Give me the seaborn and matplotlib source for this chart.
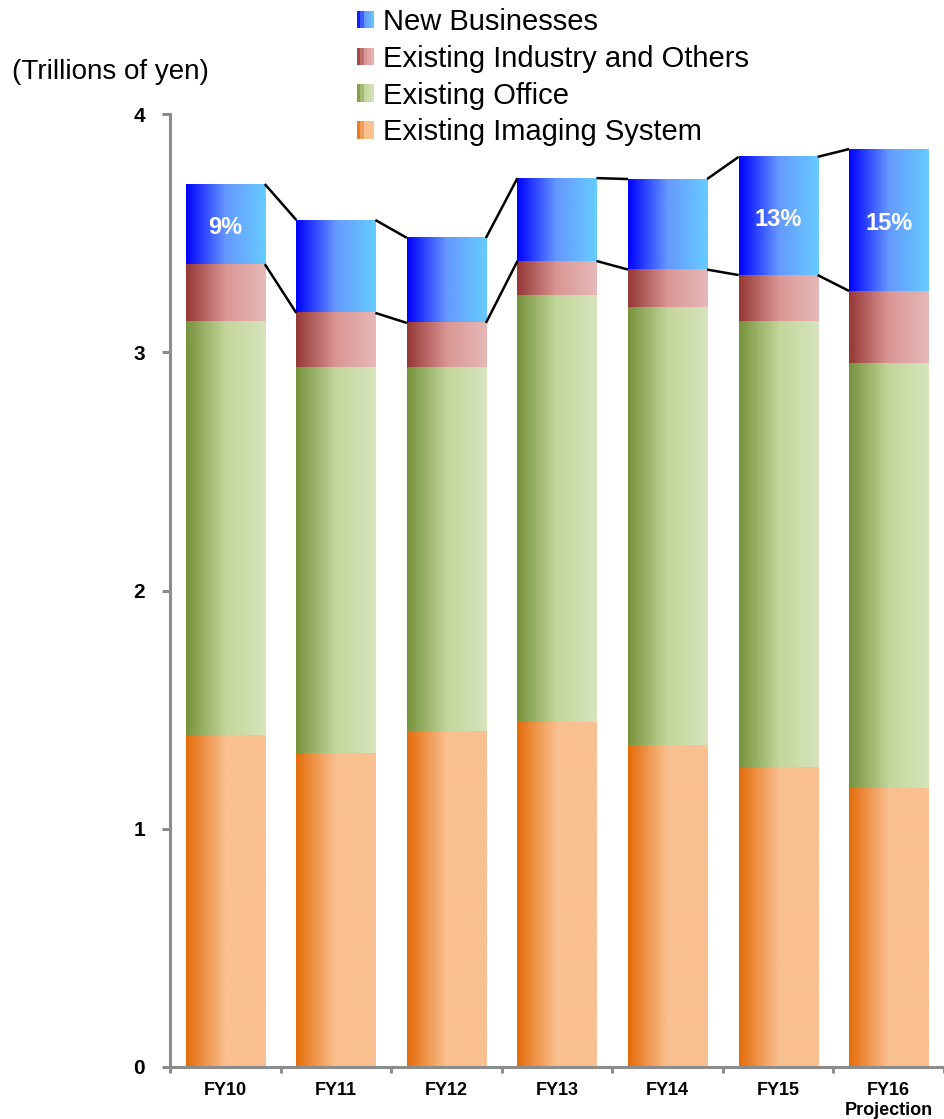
import numpy as np
import pandas as pd
import matplotlib
matplotlib.use("Agg")
import matplotlib.pyplot as plt
from matplotlib.patches import Patch, Rectangle
from matplotlib.legend_handler import HandlerBase
from matplotlib.colors import to_rgb
import seaborn as sns

# ---------------- data ----------------
categories = ["FY10", "FY11", "FY12", "FY13", "FY14", "FY15", "FY16\nProjection"]
imaging = [1.391, 1.315, 1.410, 1.448, 1.349, 1.259, 1.171]
office = [1.737, 1.623, 1.528, 1.789, 1.838, 1.869, 1.781]
industry = [0.242, 0.227, 0.185, 0.146, 0.160, 0.196, 0.305]
new_biz = [0.336, 0.390, 0.357, 0.348, 0.380, 0.496, 0.596]
pct_labels = ["9%", "", "", "", "", "13%", "15%"]
series_names = ["New Businesses", "Existing Industry and Others",
                "Existing Office", "Existing Imaging System"]
yticks = [0, 1, 2, 3, 4]

# gradient stops (left -> right) per series
grad_new = [(0.0, "#0000FF"), (0.5, "#6699FF"), (1.0, "#66CCFF")]
grad_ind = [(0.0, "#953735"), (0.5, "#D99694"), (1.0, "#E6B9B8")]
grad_off = [(0.0, "#76923C"), (0.5, "#C3D69B"), (1.0, "#D7E4BD")]
grad_img = [(0.0, "#E46C0A"), (0.5, "#FAC090"), (1.0, "#F9C090")]
gradients = [grad_new, grad_ind, grad_off, grad_img]

# ---------------- helpers ----------------
def grad_color(stops, t):
    pos = [s[0] for s in stops]
    cols = np.array([to_rgb(s[1]) for s in stops])
    return np.array([np.interp(t, pos, cols[:, k]) for k in range(3)])

def grad_image(stops, n=256):
    t = np.linspace(0, 1, n)
    row = np.stack([grad_color(stops, ti) for ti in t])
    return row[np.newaxis, :, :]

class GradHandler(HandlerBase):
    def __init__(self, stops, n=5):
        super().__init__()
        self.stops = stops
        self.n = n

    def create_artists(self, legend, orig_handle, xdescent, ydescent,
                       width, height, fontsize, trans):
        arts = []
        w = width / self.n
        for i in range(self.n):
            c = grad_color(self.stops, (i + 0.5) / self.n)
            r = Rectangle((-xdescent + i * w, -ydescent), w * 1.02, height,
                          facecolor=c, edgecolor="none", transform=trans)
            arts.append(r)
        return arts

# ---------------- frame ----------------
imaging_a = np.array(imaging)
office_top = imaging_a + np.array(office)
industry_top = office_top + np.array(industry)
total = industry_top + np.array(new_biz)

df = pd.DataFrame({
    "fy": categories,
    "total": total,
    "industry_top": industry_top,
    "office_top": office_top,
    "imaging": imaging_a,
})

sns.set_style("white")
plt.rcParams["font.family"] = ["Liberation Sans", "DejaVu Sans"]
plt.rcParams["text.color"] = "black"
plt.rcParams["xtick.labelcolor"] = "black"
plt.rcParams["ytick.labelcolor"] = "black"

fig = plt.figure(figsize=(9.44, 11.19), dpi=100)
ax = fig.add_axes([170 / 944, 1 - 1067 / 1119, 774 / 944, 953 / 1119])

bar_w = 0.715
cols_order = ["total", "industry_top", "office_top", "imaging"]
for col in cols_order:
    sns.barplot(data=df, x="fy", y=col, ax=ax, width=bar_w,
                color="white", errorbar=None, saturation=1)

# replace flat bars with horizontal gradients
for k, cont in enumerate(ax.containers):
    img = grad_image(gradients[k])
    for p in cont.patches:
        x0, w, h = p.get_x(), p.get_width(), p.get_height()
        ax.imshow(img, extent=(x0, x0 + w, 0, h), aspect="auto",
                  interpolation="bilinear", zorder=2 + k * 0.1)
        p.set_visible(False)

# connector lines between bars (total and blue/red boundary)
tot_patches = ax.containers[0].patches
ind_patches = ax.containers[1].patches
for plist in (tot_patches, ind_patches):
    for a, b in zip(plist[:-1], plist[1:]):
        ax.plot([a.get_x() + a.get_width(), b.get_x()],
                [a.get_height(), b.get_height()],
                color="black", lw=1.8, zorder=5, solid_capstyle="butt")

# percentage labels in New Businesses segments
for p_tot, p_ind, lab in zip(tot_patches, ind_patches, pct_labels):
    if lab:
        ax.text(p_tot.get_x() + p_tot.get_width() / 2,
                (p_tot.get_height() + p_ind.get_height()) / 2 - 0.015, lab,
                ha="center", va="center", color="white",
                fontsize=17, fontweight="bold", zorder=6)

# axes styling
ax.set_xlim(-0.5, len(categories) - 0.5)
ax.set_ylim(0, 4)
ax.set_xlabel("")
ax.set_ylabel("")
for s in ["top", "right"]:
    ax.spines[s].set_visible(False)
for s in ["left", "bottom"]:
    ax.spines[s].set_color("#8C8C8C")
    ax.spines[s].set_linewidth(2.2)
    ax.spines[s].set_zorder(7)

ax.set_yticks(yticks)
ax.set_yticklabels([str(v) for v in yticks], fontsize=15, fontweight="bold")
ax.tick_params(axis="y", direction="out", length=6, width=2.2,
               color="#8C8C8C", pad=12, left=True, labelcolor="black")

ax.set_xticks(np.arange(len(categories) + 1) - 0.5)
ax.set_xticklabels([])
ax.set_xticks(np.arange(len(categories)), minor=True)
ax.set_xticklabels(categories, minor=True, fontsize=13, fontweight="bold")
ax.tick_params(axis="x", which="major", direction="out", length=4.5,
               width=2.2, color="#8C8C8C", bottom=True)
ax.tick_params(axis="x", which="minor", length=0, pad=11, labelcolor="black")

ax.text(-0.0775, 1.044, "(Trillions of yen)", transform=ax.transAxes,
        ha="center", va="center", fontsize=20, color="black")

# legend
handles = [Patch(label=n) for n in series_names]
hmap = {h: GradHandler(g) for h, g in zip(handles, gradients)}
leg = fig.legend(handles=handles, handler_map=hmap, loc="upper left",
                 bbox_to_anchor=(357 / 944, 1 - 8 / 1119), frameon=False,
                 fontsize=21, handlelength=0.58, handleheight=0.55,
                 handletextpad=0.31, labelspacing=0.3, borderpad=0,
                 borderaxespad=0, labelcolor="black")

fig.savefig("out.png", dpi=100)
